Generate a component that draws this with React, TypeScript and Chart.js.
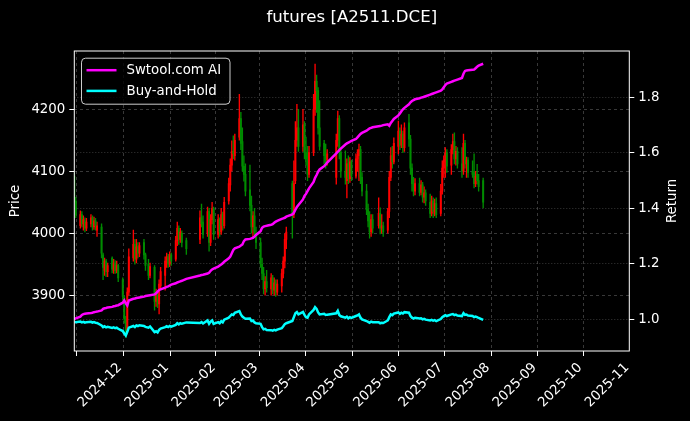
import React, { useEffect, useRef } from "react";
import { Chart, registerables } from "chart.js";

Chart.register(...registerables);

// ---- data ----
const tradeDates = [
  "2024-11-14","2024-11-15","2024-11-18","2024-11-19","2024-11-20","2024-11-21","2024-11-22","2024-11-25","2024-11-26","2024-11-27","2024-11-28","2024-11-29",
  "2024-12-02","2024-12-03","2024-12-04","2024-12-05","2024-12-06","2024-12-09","2024-12-10","2024-12-11","2024-12-12","2024-12-13","2024-12-16","2024-12-17","2024-12-18","2024-12-19","2024-12-20","2024-12-23","2024-12-24","2024-12-25","2024-12-26","2024-12-27","2024-12-30","2024-12-31",
  "2025-01-02","2025-01-03","2025-01-06","2025-01-07","2025-01-08","2025-01-09","2025-01-10","2025-01-13","2025-01-14","2025-01-15","2025-01-16","2025-01-17","2025-01-20","2025-01-21","2025-01-22","2025-01-23","2025-01-24","2025-01-27",
  "2025-02-05","2025-02-06","2025-02-07","2025-02-10","2025-02-11","2025-02-12","2025-02-13","2025-02-14","2025-02-17","2025-02-18","2025-02-19","2025-02-20","2025-02-21","2025-02-24","2025-02-25","2025-02-26","2025-02-27","2025-02-28",
  "2025-03-03","2025-03-04","2025-03-05","2025-03-06","2025-03-07","2025-03-10","2025-03-11","2025-03-12","2025-03-13","2025-03-14","2025-03-17","2025-03-18","2025-03-19","2025-03-20","2025-03-21","2025-03-24","2025-03-25","2025-03-26","2025-03-27","2025-03-28","2025-03-31",
  "2025-04-01","2025-04-02","2025-04-03","2025-04-07","2025-04-08","2025-04-09","2025-04-10","2025-04-11","2025-04-14","2025-04-15","2025-04-16","2025-04-17","2025-04-18","2025-04-21","2025-04-22","2025-04-23","2025-04-24","2025-04-25","2025-04-28","2025-04-29","2025-04-30",
  "2025-05-06","2025-05-07","2025-05-08","2025-05-09","2025-05-12","2025-05-13","2025-05-14","2025-05-15","2025-05-16","2025-05-19","2025-05-20","2025-05-21","2025-05-22","2025-05-23","2025-05-26","2025-05-27","2025-05-28","2025-05-29","2025-05-30",
  "2025-06-03","2025-06-04","2025-06-05","2025-06-06","2025-06-09","2025-06-10","2025-06-11","2025-06-12","2025-06-13","2025-06-16","2025-06-17","2025-06-18","2025-06-19","2025-06-20","2025-06-23","2025-06-24","2025-06-25","2025-06-26","2025-06-27","2025-06-30",
  "2025-07-01","2025-07-02","2025-07-03","2025-07-04","2025-07-07","2025-07-08","2025-07-09","2025-07-10","2025-07-11","2025-07-14","2025-07-15","2025-07-16","2025-07-17","2025-07-18","2025-07-21","2025-07-22","2025-07-23","2025-07-24","2025-07-25","2025-07-28","2025-07-29","2025-07-30","2025-07-31",
  "2025-08-01","2025-08-04","2025-08-05","2025-08-06","2025-08-07","2025-08-08","2025-08-11",
];

const opens = [
  4092,4052,4012,4030,4015,4020,4008,4015,4025,4010,4020,4005,
  4010,3965,3940,3955,3938,3960,3940,3952,3940,3948,3925,3895,3860,3845,3905,3960,3982,3958,3978,3968,3985,3965,
  3950,3932,3945,3890,3902,3886,3915,3932,3952,3962,3950,3965,3958,3988,4008,3990,4000,3988,
  3990,4025,4018,4000,4035,3985,4022,4040,3998,4022,4002,4030,4012,4052,4078,4110,4132,4125,
  4155,4185,4148,4108,4095,4070,4045,4010,4028,4000,3985,3950,3935,3910,3922,3910,3928,3908,3920,3905,3915,
  3935,3955,3990,4080,4030,4085,4150,4170,4140,4175,4130,4120,4095,4130,4200,4245,4230,4170,4145,4125,4118,
  4090,4150,4185,4130,4100,4085,4112,4088,4115,4092,4120,4125,4135,4090,4068,4038,4020,4002,4022,
  4012,4032,4008,4012,4005,4035,4090,4125,4115,4140,4165,4142,4160,4138,4178,4152,4105,4080,4068,4080,
  4066,4078,4058,4065,4050,4032,4052,4032,4048,4032,4068,4105,4118,4130,4110,4135,4148,4120,4132,4112,4100,4145,4112,
  4118,4100,4098,4080,4095,4085,4085,
];
const highs = [
  4098,4058,4036,4035,4028,4025,4024,4030,4028,4026,4024,4018,
  4015,3968,3960,3958,3952,3962,3958,3956,3955,3950,3928,3898,3866,3912,3975,4005,3990,3990,3985,3985,3990,3968,
  3958,3952,3948,3910,3906,3925,3945,3962,3968,3966,3970,3968,3995,4018,4012,4008,4004,3992,
  4036,4047,4028,4042,4040,4030,4050,4042,4030,4025,4040,4034,4058,4089,4120,4149,4157,4160,
  4224,4195,4170,4125,4112,4110,4060,4035,4040,4010,3992,3960,3945,3930,3940,3935,3932,3928,3925,3925,3942,
  3962,3999,4010,4084,4117,4180,4208,4200,4200,4180,4155,4140,4140,4224,4273,4255,4235,4214,4150,4144,4135,
  4160,4197,4190,4138,4133,4120,4125,4122,4118,4128,4135,4144,4140,4098,4079,4047,4035,4030,4030,
  4057,4041,4030,4018,4040,4100,4138,4140,4154,4181,4170,4175,4165,4178,4192,4158,4112,4090,4088,4089,
  4085,4082,4075,4070,4063,4060,4057,4055,4057,4079,4117,4125,4138,4135,4143,4160,4162,4140,4138,4138,4160,4150,4123,
  4122,4117,4128,4100,4111,4095,4089,
];
const lows = [
  4050,4025,4008,4010,4005,4002,4004,4010,4005,4006,4005,3995,
  3960,3925,3932,3930,3930,3936,3935,3935,3936,3922,3892,3855,3832,3840,3900,3955,3950,3952,3960,3962,3958,3940,
  3925,3928,3876,3882,3880,3870,3910,3908,3945,3945,3946,3948,3955,3980,3982,3985,3978,3966,
  3983,4010,3992,3995,3971,3980,4015,3990,3992,3995,3998,4005,4008,4047,4068,4100,4120,4118,
  4150,4135,4100,4084,4060,4036,4000,3992,3995,3975,3945,3925,3902,3900,3905,3900,3902,3900,3898,3900,3905,
  3928,3944,3975,3992,4025,4080,4140,4132,4132,4120,4110,4085,4090,4125,4190,4195,4160,4134,4112,4105,4110,
  4079,4140,4120,4090,4079,4057,4080,4082,4085,4089,4100,4085,4080,4060,4030,4010,3992,3995,4000,
  4008,3999,4000,3995,4000,4025,4085,4105,4112,4128,4135,4138,4130,4132,4140,4095,4068,4060,4062,4060,
  4062,4050,4049,4045,4025,4028,4025,4028,4025,4028,4063,4090,4090,4098,4095,4128,4112,4110,4105,4090,4095,4105,4090,
  4090,4090,4073,4075,4079,4068,4041,
];
const closes = [
  4055,4030,4030,4015,4022,4008,4018,4025,4010,4020,4012,4012,
  3968,3945,3955,3938,3948,3942,3952,3940,3948,3928,3898,3862,3842,3905,3962,3982,3958,3978,3968,3980,3965,3948,
  3932,3946,3890,3902,3886,3918,3938,3955,3962,3950,3965,3955,3988,4008,3990,4002,3985,3975,
  4025,4015,3998,4035,3985,4022,4040,3998,4022,4002,4030,4012,4050,4080,4110,4132,4128,4150,
  4185,4145,4108,4095,4068,4045,4010,4028,4002,3985,3952,3935,3910,3922,3912,3928,3908,3920,3905,3918,3935,
  3955,3990,4002,4030,4080,4150,4170,4140,4175,4130,4120,4095,4130,4200,4245,4230,4170,4140,4125,4118,4128,
  4150,4185,4130,4100,4090,4112,4088,4115,4092,4120,4125,4135,4090,4068,4038,4020,4002,4022,4008,
  4032,4008,4012,4002,4035,4090,4125,4115,4145,4165,4142,4160,4138,4170,4152,4105,4080,4068,4080,4066,
  4078,4058,4065,4052,4032,4052,4035,4048,4030,4068,4105,4118,4130,4108,4135,4148,4120,4132,4112,4100,4145,4112,4118,
  4098,4095,4080,4092,4085,4075,4050,
];

const aiReturn = [
  1.000,1.004,1.010,1.016,1.019,1.020,1.021,1.023,1.024,1.026,1.027,1.028,
  1.032,1.038,1.040,1.041,1.043,1.045,1.047,1.048,1.050,1.051,1.060,1.068,1.058,1.050,1.068,1.074,1.075,1.077,1.078,1.079,1.082,1.084,
  1.086,1.087,1.090,1.094,1.100,1.106,1.108,1.114,1.117,1.119,1.122,1.125,1.130,1.133,1.135,1.137,1.139,1.146,
  1.158,1.160,1.161,1.165,1.168,1.175,1.180,1.183,1.190,1.194,1.198,1.202,1.208,1.220,1.226,1.238,1.250,1.256,
  1.262,1.266,1.270,1.282,1.288,1.290,1.292,1.294,1.298,1.304,1.318,1.330,1.334,1.336,1.337,1.341,1.343,1.348,1.352,1.355,1.362,
  1.364,1.366,1.370,1.378,1.384,1.395,1.405,1.412,1.432,1.445,1.452,1.462,1.472,1.495,1.510,1.520,1.532,1.540,1.552,1.558,1.565,
  1.598,1.604,1.610,1.615,1.630,1.634,1.637,1.640,1.643,1.650,1.656,1.662,1.668,1.672,1.680,1.684,1.688,1.690,1.692,
  1.696,1.697,1.698,1.700,1.703,1.698,1.708,1.715,1.722,1.735,1.742,1.750,1.757,1.762,1.775,1.782,1.787,1.790,1.793,1.797,
  1.799,1.800,1.802,1.804,1.810,1.812,1.814,1.816,1.818,1.824,1.829,1.836,1.844,1.850,1.856,1.858,1.860,1.862,1.864,1.870,1.885,1.895,1.897,
  1.898,1.899,1.900,1.905,1.910,1.914,1.921,
];

const holdReturn = [
  0.991,0.990,0.992,0.989,0.991,0.988,0.990,0.991,0.988,0.990,0.988,0.987,
  0.978,0.972,0.975,0.971,0.973,0.969,0.971,0.968,0.970,0.966,0.958,0.949,0.942,0.955,0.970,0.976,0.972,0.978,0.976,0.979,0.976,0.973,
  0.970,0.974,0.954,0.957,0.953,0.962,0.967,0.972,0.975,0.972,0.976,0.974,0.980,0.986,0.982,0.986,0.984,0.989,
  0.987,0.990,0.985,0.996,0.984,0.992,0.996,0.984,0.990,0.986,0.993,0.989,0.999,1.006,1.012,1.018,1.016,1.024,
  1.030,1.018,1.010,1.006,1.002,1.003,0.994,0.996,0.989,0.986,0.984,0.972,0.964,0.966,0.962,0.961,0.959,0.962,0.960,0.963,0.968,
  0.975,0.983,0.986,0.994,1.008,1.022,1.026,1.018,1.027,1.016,1.008,1.006,1.018,1.034,1.044,1.038,1.025,1.018,1.020,1.016,1.017,
  1.022,1.031,1.016,1.011,1.006,1.010,1.004,1.008,1.005,1.012,1.014,1.018,1.006,1.000,0.994,0.991,0.988,0.992,0.990,
  0.990,0.986,0.988,0.987,0.996,1.008,1.018,1.015,1.021,1.025,1.020,1.024,1.021,1.026,1.024,1.012,1.006,1.003,1.006,1.003,
  1.004,1.000,1.002,0.999,0.996,0.998,0.995,0.997,0.994,1.001,1.008,1.012,1.015,1.012,1.018,1.019,1.015,1.017,1.014,1.012,1.022,1.016,1.017,
  1.014,1.012,1.008,1.010,1.008,1.005,0.998,
];

const monthTicks = [
  "2024-12-01","2025-01-01","2025-02-01","2025-03-01","2025-04-01","2025-05-01",
  "2025-06-01","2025-07-01","2025-08-01","2025-09-01","2025-10-01","2025-11-01",
];
const monthLabels = [
  "2024-12","2025-01","2025-02","2025-03","2025-04","2025-05",
  "2025-06","2025-07","2025-08","2025-09","2025-10","2025-11",
];
const priceTicks = [3900, 4000, 4100, 4200];
const returnTicks = [1.0, 1.2, 1.4, 1.6, 1.8];

const seriesNames = ["Swtool.com AI", "Buy-and-Hold"];
const seriesColors = ["#ff00ff", "#00ffff"];
const titleText = "futures [A2511.DCE]";

// ---- helpers ----
const ORIGIN = Date.UTC(2024, 10, 14);
const toDay = (s: string) => (Date.parse(s + "T00:00:00Z") - ORIGIN) / 86400000;

const FONT = '"DejaVu Sans", "Liberation Sans", sans-serif';

export default function App() {
  const ref = useRef<HTMLCanvasElement | null>(null);

  useEffect(() => {
    document.body.style.margin = "0";
    document.body.style.background = "#000";
    const canvas = ref.current;
    if (!canvas) return;

    const xs = tradeDates.map(toDay);
    const candleColors = closes.map((c, i) => (c >= opens[i] ? "#ff0000" : "#008c00"));
    const wickData = xs.map((x, i) => ({ x, y: [lows[i], highs[i]] }));
    const bodyData = xs.map((x, i) => ({ x, y: [opens[i], closes[i]] }));
    const aiData = xs.map((x, i) => ({ x, y: aiReturn[i] }));
    const holdData = xs.map((x, i) => ({ x, y: holdReturn[i] }));
    const monthDays = monthTicks.map(toDay);

    const bgPlugin = {
      id: "bg",
      beforeDraw(chart: any) {
        const { ctx, width, height } = chart;
        ctx.save();
        ctx.fillStyle = "#000";
        ctx.fillRect(0, 0, width, height);
        ctx.restore();
      },
    };

    const decoPlugin = {
      id: "deco",
      afterDraw(chart: any) {
        const { ctx, chartArea: ca } = chart;
        ctx.save();
        // frame
        ctx.strokeStyle = "#ffffff";
        ctx.lineWidth = 1;
        ctx.strokeRect(ca.left, ca.top, ca.right - ca.left, ca.bottom - ca.top);
        // title (centred over the plot area)
        ctx.fillStyle = "#ffffff";
        ctx.font = `16.6px ${FONT}`;
        ctx.textAlign = "center";
        ctx.textBaseline = "top";
        ctx.fillText(titleText, (ca.left + ca.right) / 2, 9);
        // right axis label
        ctx.save();
        ctx.translate(672.7, (ca.top + ca.bottom) / 2);
        ctx.rotate(-Math.PI / 2);
        ctx.font = `13.33px ${FONT}`;
        ctx.textAlign = "center";
        ctx.textBaseline = "middle";
        ctx.fillText("Return", 0, 0);
        ctx.restore();
        // legend
        const lx = ca.left + 7.2;
        const ly = ca.top + 7.2;
        const lw = 148.5;
        const lh = 46;
        ctx.beginPath();
        if ((ctx as any).roundRect) (ctx as any).roundRect(lx, ly, lw, lh, 4);
        else ctx.rect(lx, ly, lw, lh);
        ctx.fillStyle = "rgba(0,0,0,0.8)";
        ctx.fill();
        ctx.strokeStyle = "rgba(204,204,204,1)";
        ctx.lineWidth = 1;
        ctx.stroke();
        ctx.font = `13.33px ${FONT}`;
        ctx.textAlign = "left";
        ctx.textBaseline = "middle";
        seriesNames.forEach((name, i) => {
          const yy = ly + 12 + i * 20.7;
          ctx.strokeStyle = seriesColors[i];
          ctx.lineWidth = 2.5;
          ctx.beginPath();
          ctx.moveTo(lx + 5, yy);
          ctx.lineTo(lx + 35, yy);
          ctx.stroke();
          ctx.fillStyle = "#ffffff";
          ctx.fillText(name, lx + 45, yy + 0.5);
        });
        ctx.restore();
      },
    };

    const gridColor = "rgba(255,255,255,0.28)";
    const tickFont = { family: FONT, size: 13.33 };

    const chart = new Chart(canvas, {
      type: "bar",
      data: {
        datasets: [
          {
            type: "line",
            label: seriesNames[0],
            data: aiData,
            borderColor: seriesColors[0],
            backgroundColor: seriesColors[0],
            borderWidth: 2.5,
            pointRadius: 0,
            tension: 0,
            yAxisID: "y1",
            xAxisID: "x",
            order: 0,
          } as any,
          {
            type: "line",
            label: seriesNames[1],
            data: holdData,
            borderColor: seriesColors[1],
            backgroundColor: seriesColors[1],
            borderWidth: 2.5,
            pointRadius: 0,
            tension: 0,
            yAxisID: "y1",
            xAxisID: "x",
            order: 0,
          } as any,
          {
            type: "bar",
            label: "body",
            data: bodyData,
            backgroundColor: candleColors,
            barThickness: 1.3,
            grouped: false,
            yAxisID: "y",
            xAxisID: "x",
            order: 1,
          } as any,
          {
            type: "bar",
            label: "wick",
            data: wickData,
            backgroundColor: candleColors,
            barThickness: 0.7,
            grouped: false,
            yAxisID: "y",
            xAxisID: "x",
            order: 2,
          } as any,
        ],
      },
      options: {
        responsive: false,
        animation: false,
        devicePixelRatio: 1,
        color: "#ffffff",
        layout: { padding: { top: 51, left: 0, right: 0, bottom: 0 } },
        plugins: {
          legend: { display: false },
          tooltip: { enabled: false },
          title: { display: false },
        },
        scales: {
          x: {
            type: "linear",
            min: toDay("2024-11-14"),
            max: toDay("2025-11-15") + 0.5,
            offset: false,
            afterFit: (s: any) => {
              s.height = 70;
            },
            afterBuildTicks: (s: any) => {
              s.ticks = monthDays.map((v) => ({ value: v }));
            },
            ticks: {
              autoSkip: false,
              maxRotation: 45,
              minRotation: 45,
              padding: 4,
              labelOffset: 19.7,
              color: "#ffffff",
              font: tickFont,
              callback: (_v: any, i: number) => monthLabels[i],
            },
            grid: {
              color: gridColor,
              lineWidth: 0.8,
              borderDash: [3, 3],
              tickColor: "#ffffff",
              tickLength: 5,
              tickWidth: 1,
              tickBorderDash: [],
            },
            border: { display: false, dash: [3, 3] },
          } as any,
          y: {
            type: "linear",
            position: "left",
            min: 3810,
            max: 4294,
            afterFit: (s: any) => {
              s.width = 74.3;
            },
            afterBuildTicks: (s: any) => {
              s.ticks = priceTicks.map((v) => ({ value: v }));
            },
            ticks: {
              padding: 4,
              color: "#ffffff",
              font: tickFont,
              callback: (v: any) => String(v),
            },
            title: {
              display: true,
              text: "Price",
              color: "#ffffff",
              font: { family: FONT, size: 13.33 },
              padding: { top: 8, bottom: 0 },
            },
            grid: {
              color: gridColor,
              lineWidth: 0.8,
              borderDash: [3, 3],
              tickColor: "#ffffff",
              tickLength: 5,
              tickWidth: 1,
              tickBorderDash: [],
            },
            border: { display: false, dash: [3, 3] },
          } as any,
          y1: {
            type: "linear",
            position: "right",
            min: 0.886,
            max: 1.967,
            afterFit: (s: any) => {
              s.width = 60.7;
            },
            afterBuildTicks: (s: any) => {
              s.ticks = returnTicks.map((v) => ({ value: v }));
            },
            ticks: {
              padding: 4,
              color: "#ffffff",
              font: tickFont,
              callback: (v: any) => Number(v).toFixed(1),
            },
            grid: {
              color: gridColor,
              lineWidth: 0.8,
              borderDash: [1, 2],
              tickColor: "#ffffff",
              tickLength: 5,
              tickWidth: 1,
              tickBorderDash: [],
            },
            border: { display: false, dash: [1, 2] },
          } as any,
        },
      } as any,
      plugins: [bgPlugin, decoPlugin],
    });

    return () => {
      chart.destroy();
    };
  }, []);

  return (
    <div style={{ width: 690, height: 421, background: "#000" }}>
      <canvas ref={ref} width={690} height={421} style={{ display: "block" }} />
    </div>
  );
}
